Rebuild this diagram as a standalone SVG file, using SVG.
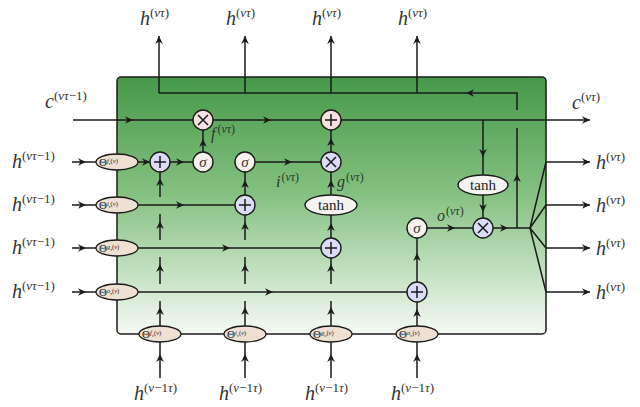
<svg xmlns="http://www.w3.org/2000/svg" xmlns:xlink="http://www.w3.org/1999/xlink" width="640" height="407" viewBox="0 0 640 407">
<style>
.ln{stroke:#1a1a1a;stroke-width:1.5;fill:none}
.op{stroke:#1a1a1a;stroke-width:1.4}
.blue{fill:#dcdcf7}
.pink{fill:#f7e0de}
.sig{fill:#f7f1ec}
.th{fill:#f6f4f1;stroke:#1a1a1a;stroke-width:1.4}
.th2{fill:#eee0d2;stroke:#1a1a1a;stroke-width:1.3}
.m{font-family:"Liberation Serif",serif;font-style:italic;fill:#333}
.r{font-style:normal}
.big{font-size:20px}
.sup{font-size:13px}
.lab{font-family:"Liberation Serif",serif;font-style:italic;fill:#2a3a2a;font-size:16px}
.tk{font-family:"Liberation Serif",serif;font-size:15px;fill:#222}
.tt{font-family:"Liberation Serif",serif;fill:#222}
</style>
<defs>
<linearGradient id="g" x1="0" y1="0" x2="0" y2="1">
<stop offset="0" stop-color="#46994a"/>
<stop offset="0.45" stop-color="#84c080"/>
<stop offset="1" stop-color="#f5faf4"/>
</linearGradient>
<path id="ah" d="M0,0 L-8,-3.8 L-5.5,0 L-8,3.8 Z" fill="#1a1a1a"/>
<marker id="me" markerWidth="10" markerHeight="10" refX="0" refY="0" viewBox="-9 -5 10 10" markerUnits="userSpaceOnUse" orient="auto">
<path d="M0,0 L-8,-3.8 L-5.5,0 L-8,3.8 Z" fill="#1a1a1a"/>
</marker>
</defs>

<g id="cell">
<rect x="117" y="77" width="429" height="257" rx="4" fill="url(#g)" stroke="#1a1a1a" stroke-width="1.5"/>
</g>

<g id="connectors">
<path class="ln" d="M517,228 V128 M517,110 V93 H159"/>
<use href="#ah" transform="translate(517,174) rotate(-90)"/>
<use href="#ah" transform="translate(466,93) rotate(180)"/>
<path class="ln" marker-end="url(#me)" d="M159,93 V36"/>
<path class="ln" marker-end="url(#me)" d="M245,93 V36"/>
<path class="ln" marker-end="url(#me)" d="M331,93 V36"/>
<path class="ln" marker-end="url(#me)" d="M417,93 V36"/>
<path class="ln" marker-end="url(#me)" d="M73,120 H590"/>
<use href="#ah" transform="translate(133,120)"/>
<use href="#ah" transform="translate(271,120)"/>
<path class="ln" d="M483,120 V175 M483,195 V218"/>
<use href="#ah" transform="translate(483,157) rotate(90)"/>
<use href="#ah" transform="translate(483,212) rotate(90)"/>
<path class="ln" d="M427,228 H473"/>
<use href="#ah" transform="translate(455,228)"/>
<path class="ln" d="M493,228 H530 L546,162 M530,228 L546,205 M530,228 L546,248 M530,228 L546,292"/>
<use href="#ah" transform="translate(508,228)"/>
<path class="ln" marker-end="url(#me)" d="M546,162 H590"/>
<path class="ln" marker-end="url(#me)" d="M546,205 H590"/>
<path class="ln" marker-end="url(#me)" d="M546,248 H590"/>
<path class="ln" marker-end="url(#me)" d="M546,292 H590"/>
<path class="ln" d="M72,162 H96 M72,205 H96 M72,248 H96 M72,292 H96"/>
<use href="#ah" transform="translate(86,162)"/>
<use href="#ah" transform="translate(86,205)"/>
<use href="#ah" transform="translate(86,248)"/>
<use href="#ah" transform="translate(86,292)"/>
<path class="ln" d="M138,162 H150 M170,162 H193"/>
<use href="#ah" transform="translate(150,162)"/>
<use href="#ah" transform="translate(184,162)"/>
<path class="ln" d="M203,152 V130"/>
<use href="#ah" transform="translate(203,139) rotate(-90)"/>
<path class="ln" d="M138,205 H235"/>
<use href="#ah" transform="translate(184,205)"/>
<path class="ln" d="M245,195 V172 M255,162 H321"/>
<use href="#ah" transform="translate(245,180) rotate(-90)"/>
<use href="#ah" transform="translate(292,162)"/>
<path class="ln" d="M138,248 H321"/>
<use href="#ah" transform="translate(230,248)"/>
<path class="ln" d="M331,238 V215 M331,195 V172 M331,152 V130"/>
<use href="#ah" transform="translate(331,223) rotate(-90)"/>
<use href="#ah" transform="translate(331,180) rotate(-90)"/>
<use href="#ah" transform="translate(331,138) rotate(-90)"/>
<path class="ln" d="M138,292 H407"/>
<use href="#ah" transform="translate(273,292)"/>
<path class="ln" d="M417,282 V238"/>
<use href="#ah" transform="translate(417,253) rotate(-90)"/>
<path class="ln" d="M160,326 V301 M160,284 V257 M160,240 V214 M160,197 V172"/>
<use href="#ah" transform="translate(160,307) rotate(-90)"/>
<use href="#ah" transform="translate(160,264) rotate(-90)"/>
<use href="#ah" transform="translate(160,221) rotate(-90)"/>
<use href="#ah" transform="translate(160,178) rotate(-90)"/>
<path class="ln" d="M245,326 V301 M245,284 V257 M245,240 V215"/>
<use href="#ah" transform="translate(245,307) rotate(-90)"/>
<use href="#ah" transform="translate(245,264) rotate(-90)"/>
<use href="#ah" transform="translate(245,222) rotate(-90)"/>
<path class="ln" d="M331,326 V301 M331,284 V258"/>
<use href="#ah" transform="translate(331,307) rotate(-90)"/>
<use href="#ah" transform="translate(331,264) rotate(-90)"/>
<path class="ln" d="M417,326 V302"/>
<use href="#ah" transform="translate(417,309) rotate(-90)"/>
<path class="ln" d="M160,378 V342 M245,378 V342 M331,378 V342 M417,378 V342"/>
<use href="#ah" transform="translate(160,354) rotate(-90)"/>
<use href="#ah" transform="translate(245,354) rotate(-90)"/>
<use href="#ah" transform="translate(331,354) rotate(-90)"/>
<use href="#ah" transform="translate(417,354) rotate(-90)"/>
</g>

<g id="mul_f"><circle class="op pink" cx="203" cy="120" r="10"/><path class="ln" d="M198,115 L208,125 M208,115 L198,125"/></g>
<g id="add_c"><circle class="op pink" cx="331" cy="120" r="10"/><path class="ln" d="M325,120 H337 M331,114 V126"/></g>
<g id="add_f"><circle class="op blue" cx="160" cy="162" r="10"/><path class="ln" d="M154,162 H166 M160,156 V168"/></g>
<g id="sig_f"><circle class="op sig" cx="203" cy="162" r="10"/><text class="m" x="203" y="167" font-size="15" text-anchor="middle">σ</text></g>
<g id="sig_i"><circle class="op sig" cx="245" cy="162" r="10"/><text class="m" x="245" y="167" font-size="15" text-anchor="middle">σ</text></g>
<g id="mul_ig"><circle class="op blue" cx="331" cy="162" r="10"/><path class="ln" d="M326,157 L336,167 M336,157 L326,167"/></g>
<g id="add_i"><circle class="op blue" cx="245" cy="205" r="10"/><path class="ln" d="M239,205 H251 M245,199 V211"/></g>
<g id="tanh_g"><ellipse class="th" cx="331" cy="205" rx="26" ry="10"/><text class="tk" x="331" y="210" text-anchor="middle">tanh</text></g>
<g id="add_g"><circle class="op blue" cx="331" cy="248" r="10"/><path class="ln" d="M325,248 H337 M331,242 V254"/></g>
<g id="add_o"><circle class="op blue" cx="417" cy="292" r="10"/><path class="ln" d="M411,292 H423 M417,286 V298"/></g>
<g id="sig_o"><circle class="op sig" cx="417" cy="228" r="10"/><text class="m" x="417" y="233" font-size="15" text-anchor="middle">σ</text></g>
<g id="tanh_c"><ellipse class="th" cx="483" cy="185" rx="25" ry="10"/><text class="tk" x="483" y="190" text-anchor="middle">tanh</text></g>
<g id="mul_o"><circle class="op blue" cx="483" cy="228" r="10"/><path class="ln" d="M478,223 L488,233 M488,223 L478,233"/></g>

<g id="w_f_tau"><ellipse class="th2" cx="117" cy="162" rx="21" ry="8"/><text class="tt" x="99" y="166" font-size="11">Θ<tspan dy="-3" font-size="6.5" font-style="italic">f</tspan><tspan dy="1.5" font-size="5" font-style="italic">τ</tspan><tspan dy="-1.5" font-size="6.5">(<tspan font-style="italic">ν</tspan>)</tspan></text></g>
<g id="w_i_tau"><ellipse class="th2" cx="117" cy="205" rx="21" ry="8"/><text class="tt" x="99" y="209" font-size="11">Θ<tspan dy="-3" font-size="6.5" font-style="italic">i</tspan><tspan dy="1.5" font-size="5" font-style="italic">τ</tspan><tspan dy="-1.5" font-size="6.5">(<tspan font-style="italic">ν</tspan>)</tspan></text></g>
<g id="w_g_tau"><ellipse class="th2" cx="117" cy="248" rx="21" ry="8"/><text class="tt" x="99" y="252" font-size="11">Θ<tspan dy="-3" font-size="6.5" font-style="italic">g</tspan><tspan dy="1.5" font-size="5" font-style="italic">τ</tspan><tspan dy="-1.5" font-size="6.5">(<tspan font-style="italic">ν</tspan>)</tspan></text></g>
<g id="w_o_tau"><ellipse class="th2" cx="117" cy="292" rx="21" ry="8"/><text class="tt" x="99" y="296" font-size="11">Θ<tspan dy="-3" font-size="6.5" font-style="italic">o</tspan><tspan dy="1.5" font-size="5" font-style="italic">τ</tspan><tspan dy="-1.5" font-size="6.5">(<tspan font-style="italic">ν</tspan>)</tspan></text></g>
<g id="w_f_nu"><ellipse class="th2" cx="160" cy="334" rx="21" ry="8"/><text class="tt" x="142" y="338" font-size="11">Θ<tspan dy="-3" font-size="6.5" font-style="italic">f</tspan><tspan dy="1.5" font-size="5" font-style="italic">ν</tspan><tspan dy="-1.5" font-size="6.5">(<tspan font-style="italic">ν</tspan>)</tspan></text></g>
<g id="w_i_nu"><ellipse class="th2" cx="245" cy="334" rx="21" ry="8"/><text class="tt" x="227" y="338" font-size="11">Θ<tspan dy="-3" font-size="6.5" font-style="italic">i</tspan><tspan dy="1.5" font-size="5" font-style="italic">ν</tspan><tspan dy="-1.5" font-size="6.5">(<tspan font-style="italic">ν</tspan>)</tspan></text></g>
<g id="w_g_nu"><ellipse class="th2" cx="331" cy="334" rx="21" ry="8"/><text class="tt" x="313" y="338" font-size="11">Θ<tspan dy="-3" font-size="6.5" font-style="italic">g</tspan><tspan dy="1.5" font-size="5" font-style="italic">ν</tspan><tspan dy="-1.5" font-size="6.5">(<tspan font-style="italic">ν</tspan>)</tspan></text></g>
<g id="w_o_nu"><ellipse class="th2" cx="417" cy="334" rx="21" ry="8"/><text class="tt" x="399" y="338" font-size="11">Θ<tspan dy="-3" font-size="6.5" font-style="italic">o</tspan><tspan dy="1.5" font-size="5" font-style="italic">ν</tspan><tspan dy="-1.5" font-size="6.5">(<tspan font-style="italic">ν</tspan>)</tspan></text></g>

<g id="labels">
<text class="lab" x="211" y="139">f<tspan dx="2" dy="-6" font-size="12"><tspan class="r">(</tspan>ντ<tspan class="r">)</tspan></tspan></text>
<text class="lab" x="276" y="187">i<tspan dx="1" dy="-6" font-size="12"><tspan class="r">(</tspan>ντ<tspan class="r">)</tspan></tspan></text>
<text class="lab" x="337" y="187">g<tspan dx="1" dy="-6" font-size="12"><tspan class="r">(</tspan>ντ<tspan class="r">)</tspan></tspan></text>
<text class="lab" x="437" y="221">o<tspan dx="1" dy="-6" font-size="12"><tspan class="r">(</tspan>ντ<tspan class="r">)</tspan></tspan></text>

<text class="m big" x="45" y="108">c<tspan class="sup" dy="-8"><tspan class="r">(</tspan>ντ<tspan class="r">−1)</tspan></tspan></text>
<text class="m big" x="572" y="109">c<tspan class="sup" dy="-8"><tspan class="r">(</tspan>ντ<tspan class="r">)</tspan></tspan></text>

<text class="m big" x="140" y="25">h<tspan class="sup" dy="-8"><tspan class="r">(</tspan>ντ<tspan class="r">)</tspan></tspan></text>
<text class="m big" x="226" y="25">h<tspan class="sup" dy="-8"><tspan class="r">(</tspan>ντ<tspan class="r">)</tspan></tspan></text>
<text class="m big" x="312" y="25">h<tspan class="sup" dy="-8"><tspan class="r">(</tspan>ντ<tspan class="r">)</tspan></tspan></text>
<text class="m big" x="398" y="25">h<tspan class="sup" dy="-8"><tspan class="r">(</tspan>ντ<tspan class="r">)</tspan></tspan></text>

<text class="m big" x="12" y="168">h<tspan class="sup" dy="-8"><tspan class="r">(</tspan>ντ<tspan class="r">−1)</tspan></tspan></text>
<text class="m big" x="12" y="211">h<tspan class="sup" dy="-8"><tspan class="r">(</tspan>ντ<tspan class="r">−1)</tspan></tspan></text>
<text class="m big" x="12" y="254">h<tspan class="sup" dy="-8"><tspan class="r">(</tspan>ντ<tspan class="r">−1)</tspan></tspan></text>
<text class="m big" x="12" y="298">h<tspan class="sup" dy="-8"><tspan class="r">(</tspan>ντ<tspan class="r">−1)</tspan></tspan></text>

<text class="m big" x="596" y="169">h<tspan class="sup" dy="-8"><tspan class="r">(</tspan>ντ<tspan class="r">)</tspan></tspan></text>
<text class="m big" x="596" y="212">h<tspan class="sup" dy="-8"><tspan class="r">(</tspan>ντ<tspan class="r">)</tspan></tspan></text>
<text class="m big" x="596" y="255">h<tspan class="sup" dy="-8"><tspan class="r">(</tspan>ντ<tspan class="r">)</tspan></tspan></text>
<text class="m big" x="596" y="299">h<tspan class="sup" dy="-8"><tspan class="r">(</tspan>ντ<tspan class="r">)</tspan></tspan></text>

<text class="m big" x="134" y="400">h<tspan class="sup" dy="-8"><tspan class="r">(</tspan>ν<tspan class="r">−1</tspan>τ<tspan class="r">)</tspan></tspan></text>
<text class="m big" x="219" y="400">h<tspan class="sup" dy="-8"><tspan class="r">(</tspan>ν<tspan class="r">−1</tspan>τ<tspan class="r">)</tspan></tspan></text>
<text class="m big" x="305" y="400">h<tspan class="sup" dy="-8"><tspan class="r">(</tspan>ν<tspan class="r">−1</tspan>τ<tspan class="r">)</tspan></tspan></text>
<text class="m big" x="391" y="400">h<tspan class="sup" dy="-8"><tspan class="r">(</tspan>ν<tspan class="r">−1</tspan>τ<tspan class="r">)</tspan></tspan></text>
</g>
</svg>
